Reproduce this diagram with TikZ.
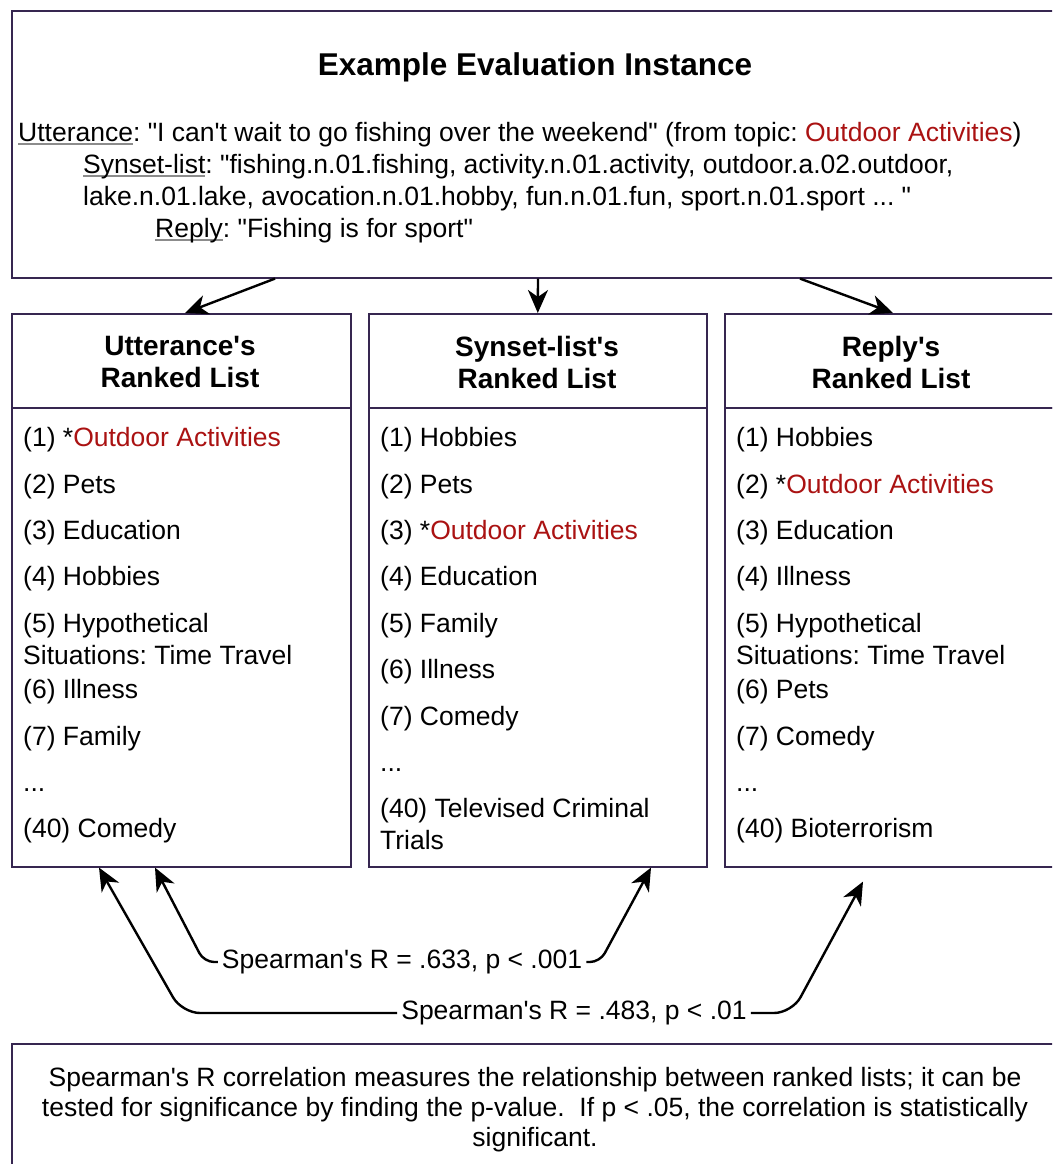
\documentclass[tikz,border=0pt]{standalone}
\usepackage{fontspec}
\setmainfont{Liberation Sans}[Ligatures=TeXOff]
\usetikzlibrary{arrows.meta,calc}
\definecolor{frame}{RGB}{54,38,80}
\definecolor{topic}{RGB}{170,18,18}
\definecolor{ulgray}{RGB}{140,140,140}
% gray underline used for the field names
\newcommand{\gul}[1]{\setbox0\hbox{#1}\rlap{\textcolor{ulgray}{\rule[-4pt]{\wd0}{2.4pt}}}\box0}
% two-line list entry, baseline on the first line
\newcommand{\twoline}[2]{\vtop{\baselineskip=32pt\hbox{#1}\hbox{#2}}}
\frenchspacing
\begin{document}
\begin{tikzpicture}[x=1pt,y=1pt,
  box/.style={draw=frame,line width=1.6pt,anchor=north west,inner sep=0pt},
  txt/.style={anchor=base west,inner sep=0pt,font=\fontsize{26.5}{32}\selectfont},
  head/.style={align=center,inner sep=0pt,font=\bfseries\fontsize{28}{32}\selectfont},
  lbl/.style={inner sep=4pt,font=\fontsize{26.5}{32}\selectfont},
  arr/.style={line width=2.4pt,-{Stealth[length=23pt,width=20pt,inset=7pt]}}]
\useasboundingbox (0,0) rectangle (1052,-1164);
\clip (0,0) rectangle (1052,-1164);

% evaluation instance
\node[box,minimum width=1060pt,minimum height=267pt] (inst) at (11,-10) {};
\node[font=\bfseries\fontsize{31.5}{36}\selectfont,inner sep=0pt] (title) at (535,-67) {Example Evaluation Instance};
\node[txt] (utt) at (18,-141) {\gul{Utterance}: "I can't wait to go fishing over the weekend" (from topic: \textcolor{topic}{Outdoor Activities})};
\node[txt] (syn1) at (83,-173) {\gul{Synset-list}: "fishing.n.01.fishing, activity.n.01.activity, outdoor.a.02.outdoor,};
\node[txt] (syn2) at (83,-205) {lake.n.01.lake, avocation.n.01.hobby, fun.n.01.fun, sport.n.01.sport ... "};
\node[txt] (rep) at (155,-237) {\gul{Reply}: "Fishing is for sport"};

% ranked list boxes
\node[box,minimum width=339pt,minimum height=94pt] (uhead) at (11,-313) {};
\node[box,minimum width=339pt,minimum height=459pt] (ulist) at (11,-407) {};
\node[box,minimum width=338pt,minimum height=94pt] (shead) at (368,-313) {};
\node[box,minimum width=338pt,minimum height=459pt] (slist) at (368,-407) {};
\node[box,minimum width=340pt,minimum height=94pt] (rhead) at (724,-313) {};
\node[box,minimum width=340pt,minimum height=459pt] (rlist) at (724,-407) {};

\node[head] (ut) at (180,-362) {Utterance's\\Ranked List};
\node[head] (st) at (537,-362) {Synset-list's\\Ranked List};
\node[head] (rt) at (891,-362) {Reply's\\Ranked List};

% utterance ranking
\node[txt] (u1) at (23,-446) {(1) *\textcolor{topic}{Outdoor Activities}};
\node[txt] (u2) at (23,-493) {(2) Pets};
\node[txt] (u3) at (23,-539) {(3) Education};
\node[txt] (u4) at (23,-585) {(4) Hobbies};
\node[txt] (u5) at (23,-632) {\twoline{(5) Hypothetical}{Situations: Time Travel}};
\node[txt] (u6) at (23,-698) {(6) Illness};
\node[txt] (u7) at (23,-745) {(7) Family};
\node[txt] (u8) at (23,-791) {...};
\node[txt] (u40) at (23,-837) {(40) Comedy};

% synset-list ranking
\node[txt] (s1) at (380,-446) {(1) Hobbies};
\node[txt] (s2) at (380,-493) {(2) Pets};
\node[txt] (s3) at (380,-539) {(3) *\textcolor{topic}{Outdoor Activities}};
\node[txt] (s4) at (380,-585) {(4) Education};
\node[txt] (s5) at (380,-632) {(5) Family};
\node[txt] (s6) at (380,-678) {(6) Illness};
\node[txt] (s7) at (380,-725) {(7) Comedy};
\node[txt] (s8) at (380,-771) {...};
\node[txt] (s40) at (380,-817) {\twoline{(40) Televised Criminal}{Trials}};

% reply ranking
\node[txt] (r1) at (736,-446) {(1) Hobbies};
\node[txt] (r2) at (736,-493) {(2) *\textcolor{topic}{Outdoor Activities}};
\node[txt] (r3) at (736,-539) {(3) Education};
\node[txt] (r4) at (736,-585) {(4) Illness};
\node[txt] (r5) at (736,-632) {\twoline{(5) Hypothetical}{Situations: Time Travel}};
\node[txt] (r6) at (736,-698) {(6) Pets};
\node[txt] (r7) at (736,-745) {(7) Comedy};
\node[txt] (r8) at (736,-791) {...};
\node[txt] (r40) at (736,-837) {(40) Bioterrorism};

% instance to lists
\draw[arr] ([xshift=264pt]inst.south west) -- ([xshift=174pt]uhead.north west);
\draw[arr] ([xshift=527pt]inst.south west) -- (shead.north);
\draw[arr] ([xshift=789pt]inst.south west) -- ([xshift=169pt]rhead.north west);

% correlations
\node[lbl] (l1) at (402,-962) {Spearman's R = .633, p < .001};
\node[lbl] (l2) at (574,-1013) {Spearman's R = .483, p < .01};
\coordinate (ua) at ([xshift=88pt]ulist.south west);
\coordinate (ub) at ([xshift=144pt]ulist.south west);
\coordinate (sb) at ([xshift=283pt]slist.south west);
\coordinate (rb) at ([xshift=139pt,yshift=-14pt]rlist.south west);
\draw[arr,rounded corners=10pt] (l1.west) -- (204,-962) -- (ub);
\draw[arr,rounded corners=10pt] (l1.east) -- (600,-962) -- (sb);
\draw[arr,rounded corners=18pt] (l2.west) -- (182,-1013) -- (ua);
\draw[arr,rounded corners=18pt] (l2.east) -- (792,-1013) -- (rb);

% note
\node[box,minimum width=1060pt,minimum height=140pt] (note) at (11,-1043) {};
\node[align=center,inner sep=0pt,font=\fontsize{26.5}{30}\selectfont] (nt) at (535,-1110)
  {Spearman's R correlation measures the relationship between ranked lists; it can be\\
   tested for significance by finding the p-value.\ \ If p < .05, the correlation is statistically\\
   significant.};
\end{tikzpicture}
\end{document}
